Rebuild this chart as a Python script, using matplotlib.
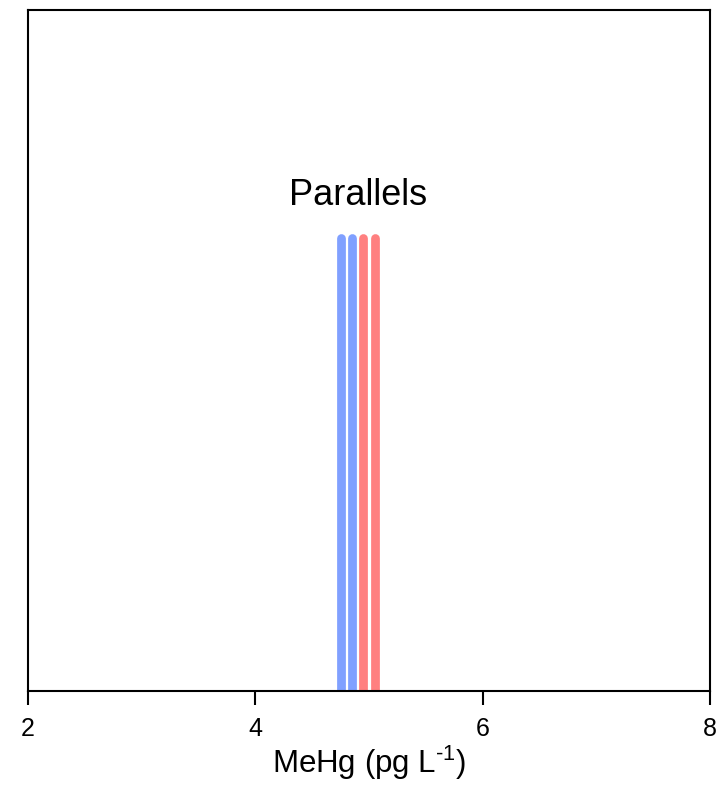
import matplotlib
matplotlib.use("Agg")
import matplotlib.pyplot as plt

plt.rcParams['font.family'] = ['Liberation Sans', 'DejaVu Sans']
plt.rcParams['mathtext.fontset'] = 'custom'
plt.rcParams['mathtext.rm'] = 'Liberation Sans'
plt.rcParams['mathtext.it'] = 'Liberation Sans'

blue_values = [4.75, 4.85]
red_values = [4.95, 5.05]
line_height = 0.665
xticks = [2, 4, 6, 8]
label_text = "Parallels"

fig = plt.figure(figsize=(7.2, 8.07), dpi=100)
ax = fig.add_axes([28/720, 1 - 691/807, (710-28)/720, (691-10)/807])
for v in blue_values:
    ax.plot([v, v], [0, line_height], color='#80a0ff', lw=6.3, solid_capstyle='round', zorder=1)
for v in red_values:
    ax.plot([v, v], [0, line_height], color='#ff8080', lw=6.3, solid_capstyle='round', zorder=1)
ax.set_xlim(2, 8)
ax.set_ylim(0, 1)
ax.set_yticks([])
ax.set_xticks(xticks)
ax.tick_params(axis='x', direction='out', length=10, width=1.5, labelsize=18, pad=9)
for s in ax.spines.values():
    s.set_linewidth(1.5)
ax.spines['bottom'].set_zorder(3)
ax.text(sum(blue_values + red_values) / 4, 0.728, label_text, ha='center', va='center', fontsize=26)
ax.set_xlabel('MeHg (pg L$^{\u2010 1}$)', fontsize=22.5, labelpad=2)
fig.savefig('out.png', dpi=100)
